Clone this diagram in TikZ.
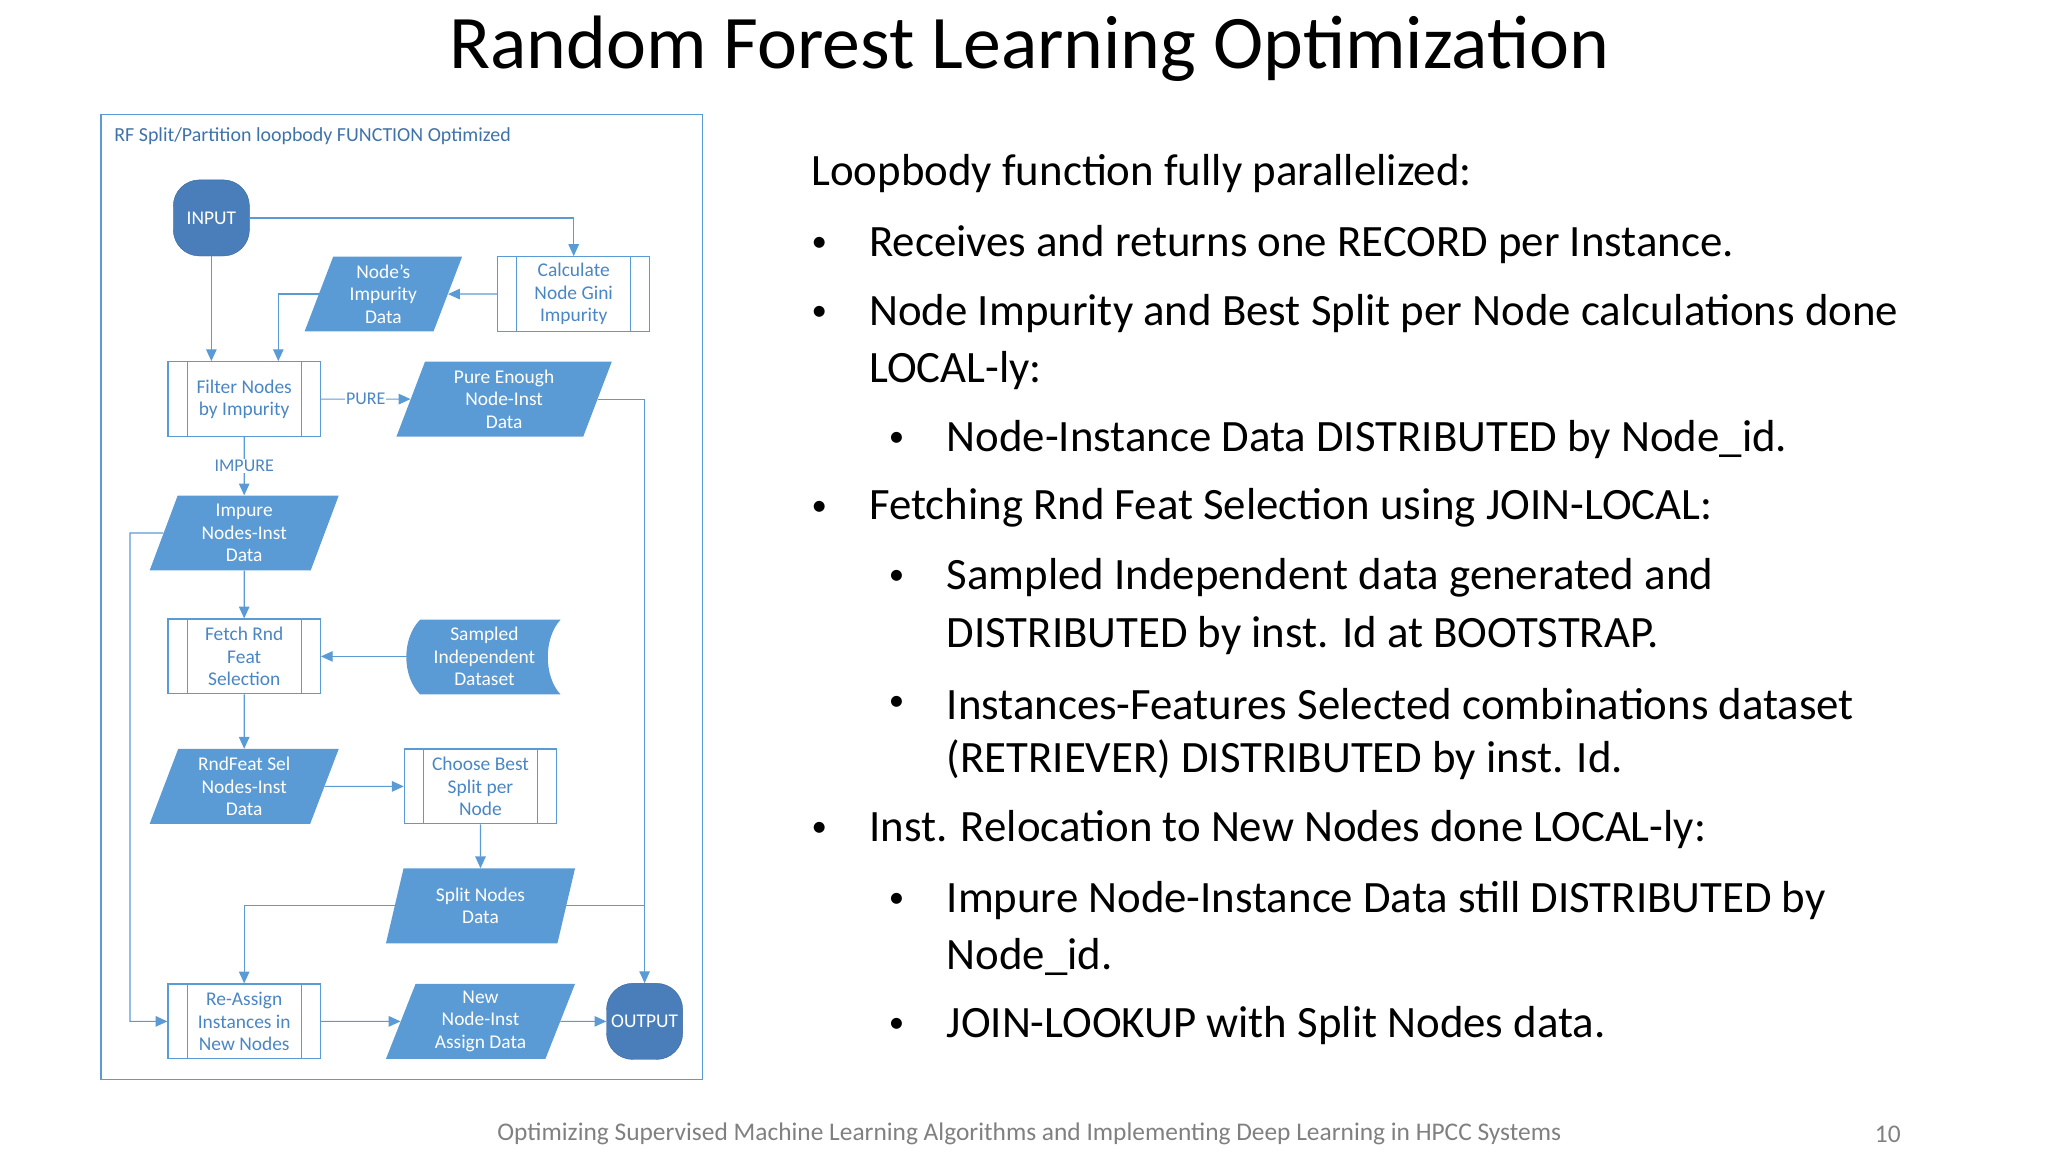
\documentclass[tikz,border=0pt]{standalone}
\usepackage{fontspec}
\setmainfont{Carlito}
\usetikzlibrary{shapes.geometric,arrows.meta}
\def\U{*1.3128bp}
\definecolor{bl}{HTML}{5B9BD5}
\definecolor{dbl}{HTML}{4A7EBB}
\definecolor{tx}{HTML}{4A86C5}
\begin{document}
\begin{tikzpicture}[x=1.3128bp,y=-1.3128bp,
  ff/.style={font=\fontsize{19.5}{22.5}\selectfont,align=center},
  proc/.style={ff,draw=bl,line width=1.2pt,fill=white,text=tx,minimum width=116\U,minimum height=57\U,inner sep=0pt},
  data/.style={ff,trapezium,trapezium left angle=64,trapezium right angle=116,trapezium stretches body,fill=bl,text=white,minimum height=57\U,inner sep=0pt},
  term/.style={ff,rounded corners=20\U,fill=dbl,draw=dbl!80!black,text=white,minimum width=58\U,minimum height=58\U,inner sep=0pt},
  con/.style={bl,line width=1.2pt},
  arr/.style={con,-{Triangle[length=9\U,width=8\U]}},
  bt/.style={anchor=west,font=\fontsize{45}{50}\selectfont,inner sep=0pt},
  bu/.style={anchor=center,font=\fontsize{31}{34}\selectfont,inner sep=0pt}]
\useasboundingbox (0,0) rectangle (1560,877.5);
\node[font=\fontsize{76}{86}\selectfont] (title) at (784,37) {Random Forest Learning Optimization};
\node[draw=bl,line width=1.2pt,minimum width=458\U,minimum height=735\U,inner sep=0pt] (frame) at (306,454.5) {};
\node[anchor=west,text=tx!85!black,font=\fontsize{20}{22}\selectfont,inner sep=0pt] (flab) at (87,104) {RF Split/Partition loopbody FUNCTION Optimized};
\node[term] (in) at (161,166) {INPUT};
\node[proc] (calc) at (437,224) {Calculate\\Node Gini\\Impurity};
\node[data,minimum width=120\U] (nimp) at (292,224) {Node’s\\Impurity\\Data};
\node[proc] (filt) at (186,304) {Filter Nodes\\by Impurity};
\node[data,minimum width=164\U] (pure) at (384,304) {Pure Enough\\Node-Inst\\Data};
\node[data,minimum width=144\U] (imp) at (186,406) {Impure\\Nodes-Inst\\Data};
\node[proc] (fetch) at (186,500) {Fetch Rnd\\Feat\\Selection};
\fill[bl] (320,472) -- (427,472) .. controls (414,486) and (414,515) .. (427,529) -- (320,529) .. controls (306,515) and (306,486) .. (320,472) -- cycle;
\node[ff,text=white,minimum width=115\U,minimum height=57\U,inner sep=0pt] (samp) at (369,500) {Sampled\\Independent\\Dataset};
\node[data,minimum width=144\U] (rnd) at (186,599) {RndFeat Sel\\Nodes-Inst\\Data};
\node[proc] (choose) at (366,599) {Choose Best\\Split per\\Node};
\node[data,minimum width=144\U] (split) at (366,690) {Split Nodes\\Data};
\node[proc] (reas) at (186,778) {Re-Assign\\Instances in\\New Nodes};
\node[data,minimum width=144\U] (new) at (366,778) {New\\Node-Inst\\Assign Data};
\node[term] (out) at (491,778) {OUTPUT};
\foreach \n in {calc,filt,fetch,choose,reas}
  \draw[con] ([xshift=15\U]\n.north west) -- ([xshift=15\U]\n.south west)
             ([xshift=-15\U]\n.north east) -- ([xshift=-15\U]\n.south east);
\coordinate (lp) at (99,406);
\draw[arr] (in.east) -| (calc.north);
\draw[arr] (calc.west) -- (nimp.east);
\draw[arr] (nimp.west) -| ([xshift=26\U]filt.north);
\draw[arr] (in.south) -- (in.south |- filt.north);
\draw[arr] (filt.east) -- node[fill=white,text=tx,font=\fontsize{18}{20}\selectfont,inner sep=1pt] (pl) {PURE} (pure.west);
\draw[arr] (filt.south) -- node[fill=white,text=tx,font=\fontsize{18}{20}\selectfont,inner sep=1pt] (il) {IMPURE} (imp.north);
\draw[arr] (imp.south) -- (fetch.north);
\draw[arr] (samp.west) -- (fetch.east);
\draw[arr] (fetch.south) -- (rnd.north);
\draw[arr] (rnd.east) -- (choose.west);
\draw[arr] (choose.south) -- (split.north);
\draw[arr] (split.west) -| (reas.north);
\draw[arr] (pure.east) -| (out.north);
\draw[con] (split.east) -- (out.north |- split.east);
\draw[arr] (imp.west) -- (lp) |- (reas.west);
\draw[arr] (reas.east) -- (new.west);
\draw[arr] (new.east) -- (out.west);
% right text
\node[bt] (h) at (618,132) {Loopbody function fully parallelized:};
\foreach \y/\t in {186/{Receives and returns one RECORD per Instance.},239/{Node Impurity and Best Split per Node calculations done},387/{Fetching Rnd Feat Selection using JOIN-LOCAL:},632/{Inst. Relocation to New Nodes done LOCAL-ly:}}
  {\node[bu] at (624,\y) {•}; \node[bt] at (662,\y) {\t};}
\node[bt] (c1) at (662,282) {LOCAL-ly:};
\foreach \y/\t in {335/{Node-Instance Data DISTRIBUTED by Node\_id.},440/{Sampled Independent data generated and},536/{Instances-Features Selected combinations dataset},686/{Impure Node-Instance Data still DISTRIBUTED by},781/{JOIN-LOOKUP with Split Nodes data.}}
  {\node[bu] at (683,\y) {•}; \node[bt] at (721,\y) {\t};}
\node[bt] at (721,484) {DISTRIBUTED by inst. Id at BOOTSTRAP.};
\node[bt] at (721,579) {(RETRIEVER) DISTRIBUTED by inst. Id.};
\node[bt] at (721,729) {Node\_id.};
\node[text=gray,font=\fontsize{25.5}{29}\selectfont] (foot) at (784,864) {Optimizing Supervised Machine Learning Algorithms and Implementing Deep Learning in HPCC Systems};
\node[text=gray,font=\fontsize{25.5}{29}\selectfont] (pg) at (1438,864) {10};
\end{tikzpicture}
\end{document}
